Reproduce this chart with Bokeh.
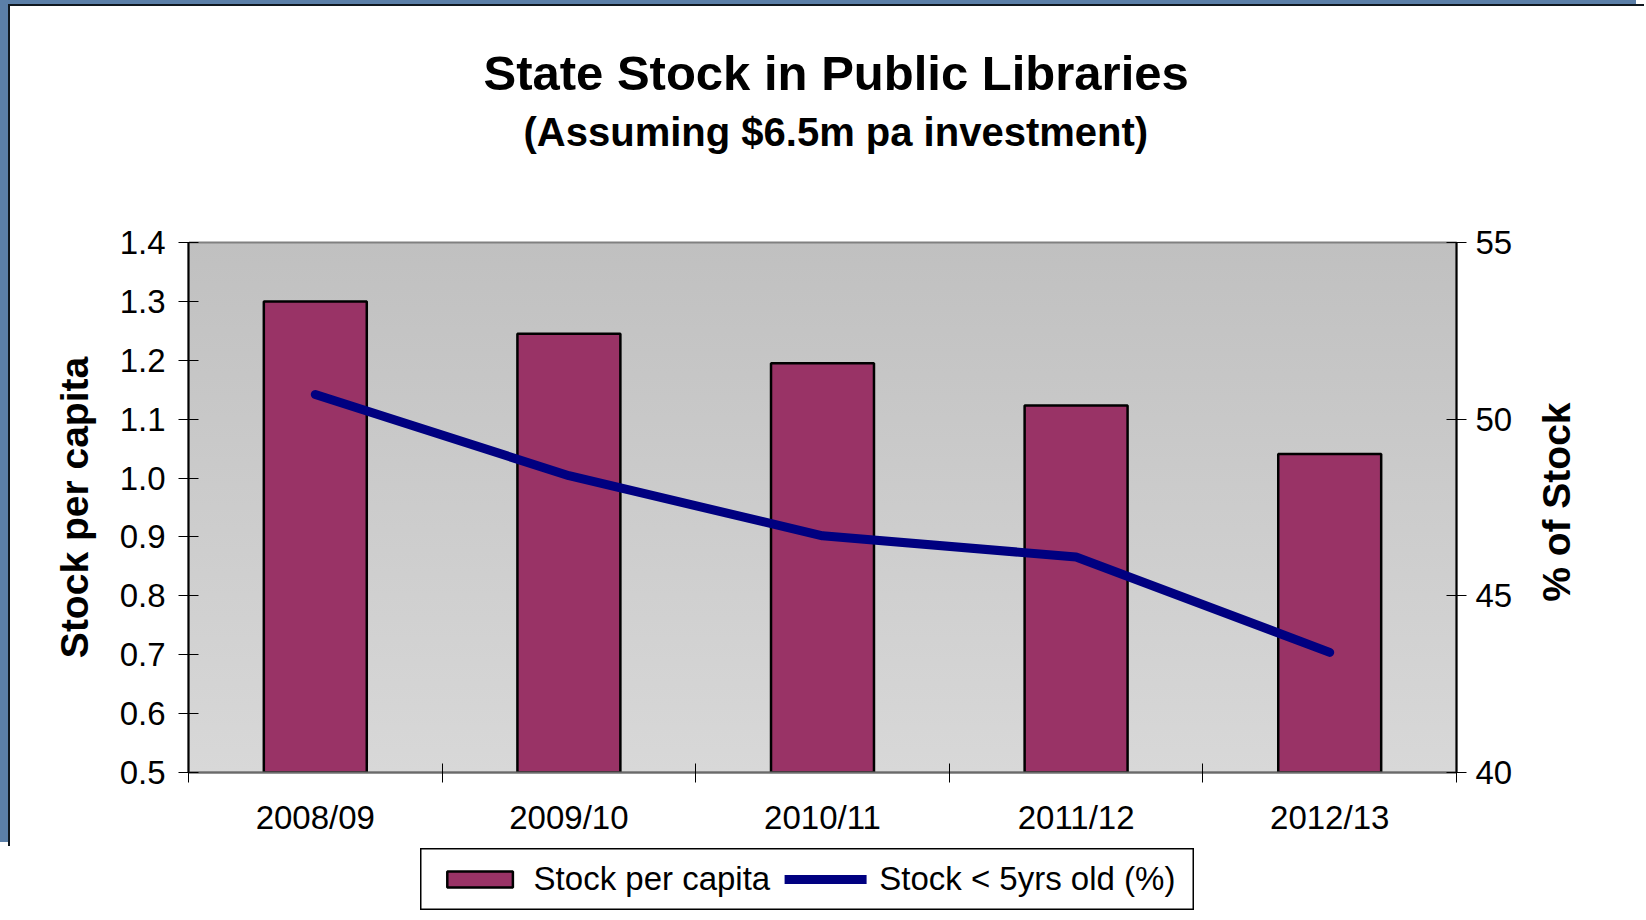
from bokeh.plotting import figure
from bokeh.models import (Range1d, LinearAxis, FixedTicker, Title, Legend, LegendItem)
from bokeh.embed import file_html
from bokeh.resources import INLINE
import math

# ---- data ----
years = ["2008/09", "2009/10", "2010/11", "2011/12", "2012/13"]
stock_per_capita = [1.30, 1.245, 1.195, 1.123, 1.041]
stock_under_5yrs_pct = [50.7, 48.4, 46.7, 46.1, 43.4]
left_ticks = [0.5, 0.6, 0.7, 0.8, 0.9, 1.0, 1.1, 1.2, 1.3, 1.4]
left_tick_labels = ["0.5", "0.6", "0.7", "0.8", "0.9", "1.0", "1.1", "1.2", "1.3", "1.4"]
right_ticks = [40, 45, 50, 55]

title_text = "State Stock in Public Libraries"
subtitle_text = "(Assuming $6.5m pa investment)"
left_label = "Stock per capita"
right_label = "% of Stock"
bar_name = "Stock per capita"
line_name = "Stock < 5yrs old (%)"

FONT = "Liberation Sans"
BAR_COLOR = "#993366"
LINE_COLOR = "#000080"

xs = [i + 0.5 for i in range(len(years))]

# ---------------- main chart ----------------
p = figure(frame_width=1268, frame_height=530,
           min_border_left=178, min_border_right=190,
           min_border_top=236, min_border_bottom=76,
           x_range=Range1d(0, len(years)),
           y_range=Range1d(left_ticks[0], left_ticks[-1]),
           output_backend="svg", toolbar_location=None)
p.margin = (6, 0, 0, 10)
p.styles = {
    "box-shadow": "-2px -2px 0 #101820, -10px -6px 0 #5b7fa8",
    "background": "linear-gradient(#c0c0c0, #d8d8d8) 178px 236px / 1268px 530px no-repeat, white",
}
p.extra_y_ranges = {"pct": Range1d(right_ticks[0], right_ticks[-1]),
                    "lab": Range1d(0, 1)}
p.border_fill_alpha = 0
p.background_fill_alpha = 0
p.outline_line_color = "#808080"
p.outline_line_width = 2
p.xgrid.grid_line_color = None
p.ygrid.grid_line_color = None

bars = p.vbar(x=xs, top=stock_per_capita, bottom=left_ticks[0], width=0.406,
              fill_color=BAR_COLOR, line_color="black", line_width=2.5)
line = p.line(xs, stock_under_5yrs_pct, y_range_name="pct",
              line_color=LINE_COLOR, line_width=9, line_cap="round", line_join="round")

# x axis
xa = p.below[0]
xa.ticker = FixedTicker(ticks=xs, minor_ticks=list(range(len(years) + 1)))
xa.major_label_overrides = {x: y for x, y in zip(xs, years)}
xa.major_tick_in = 0
xa.major_tick_out = 0
xa.minor_tick_in = 9
xa.minor_tick_out = 10
xa.minor_tick_line_color = "black"
xa.minor_tick_line_width = 1
xa.axis_line_color = "#6a6a6a"
xa.axis_line_width = 2
xa.major_label_standoff = 16
xa.major_label_text_font = FONT
xa.major_label_text_font_size = "33px"
xa.major_label_text_color = "black"

# left axis
ya = p.left[0]
ya.ticker = FixedTicker(ticks=left_ticks)
ya.major_label_overrides = {t: s for t, s in zip(left_ticks, left_tick_labels)}
ya.major_tick_in = 10
ya.major_tick_out = 10
ya.major_tick_line_color = "black"
ya.minor_tick_line_color = None
ya.axis_line_color = "black"
ya.axis_line_width = 2
ya.major_label_standoff = 13
ya.major_label_text_font = FONT
ya.major_label_text_font_size = "33px"
ya.major_label_text_color = "black"
ya.axis_label = left_label
ya.axis_label_text_font = FONT
ya.axis_label_text_font_size = "39px"
ya.axis_label_text_font_style = "bold"
ya.axis_label_text_color = "black"
ya.axis_label_standoff = 21

# right axis (ticks + numbers)
ra = LinearAxis(y_range_name="pct", ticker=FixedTicker(ticks=right_ticks))
ra.major_tick_in = 10
ra.major_tick_out = 10
ra.major_tick_line_color = "black"
ra.minor_tick_line_color = None
ra.axis_line_color = "black"
ra.axis_line_width = 2
ra.major_label_standoff = 9
ra.major_label_text_font = FONT
ra.major_label_text_font_size = "33px"
ra.major_label_text_color = "black"
p.add_layout(ra, "right")

# right axis title: one rotated label, read bottom-to-top, centred on the plot height
lab_pos = 0.322
la = LinearAxis(y_range_name="lab", ticker=FixedTicker(ticks=[lab_pos]))
la.major_label_overrides = {lab_pos: right_label}
la.major_label_orientation = math.pi / 2
la.axis_line_color = None
la.major_tick_in = 0
la.major_tick_out = 0
la.major_tick_line_color = None
la.minor_tick_line_color = None
la.major_label_standoff = 41
la.major_label_text_font = FONT
la.major_label_text_font_size = "39px"
la.major_label_text_font_style = "bold"
la.major_label_text_color = "black"
p.add_layout(la, "right")

# spacer between plot area and subtitle (single white tick, no label)
sp = LinearAxis(ticker=FixedTicker(ticks=[0]))
sp.major_label_overrides = {0: ""}
sp.axis_line_color = None
sp.major_tick_in = 0
sp.major_tick_out = 89
sp.major_tick_line_color = "white"
sp.minor_tick_line_color = None
sp.major_label_standoff = 0
sp.major_label_text_font_size = "1px"
p.add_layout(sp, "above")

# titles (subtitle first: it sits closest to the plot area)
p.add_layout(Title(text=subtitle_text, align="left", offset=335, standoff=0,
                   text_font=FONT, text_font_size="40px", text_font_style="bold",
                   text_color="black"), "above")
p.add_layout(Title(text=title_text, align="left", offset=295, standoff=15,
                   text_font=FONT, text_font_size="49px", text_font_style="bold",
                   text_color="black"), "above")

# ---------------- legend box (separate small figure under the chart) ----------------
p2 = figure(width=774, height=62, min_border=0,
            x_range=Range1d(-20, -19), y_range=Range1d(-20, -19),
            x_axis_location=None, y_axis_location=None,
            output_backend="svg", toolbar_location=None)
p2.margin = (0, 0, 0, 420)
p2.grid.visible = False
p2.outline_line_color = "black"
p2.outline_line_width = 2
p2.background_fill_color = "white"
p2.border_fill_color = "white"
leg_bar = p2.vbar(x=xs, top=stock_per_capita, bottom=left_ticks[0], width=0.406,
                  fill_color=BAR_COLOR, line_color="black", line_width=2.5)
leg_line = p2.line(xs, stock_under_5yrs_pct, line_color=LINE_COLOR, line_width=9,
                   line_cap="round")
legend = Legend(items=[LegendItem(label=bar_name, renderers=[leg_bar]),
                       LegendItem(label=line_name, renderers=[leg_line])],
                orientation="horizontal", location="center", margin=0, padding=0,
                glyph_width=82, glyph_height=20, label_standoff=13, spacing=14,
                border_line_color=None, background_fill_alpha=0,
                label_text_font=FONT, label_text_font_size="33px",
                label_text_color="black")
p2.add_layout(legend)

open("out.html", "w").write(file_html([p, p2], INLINE))
